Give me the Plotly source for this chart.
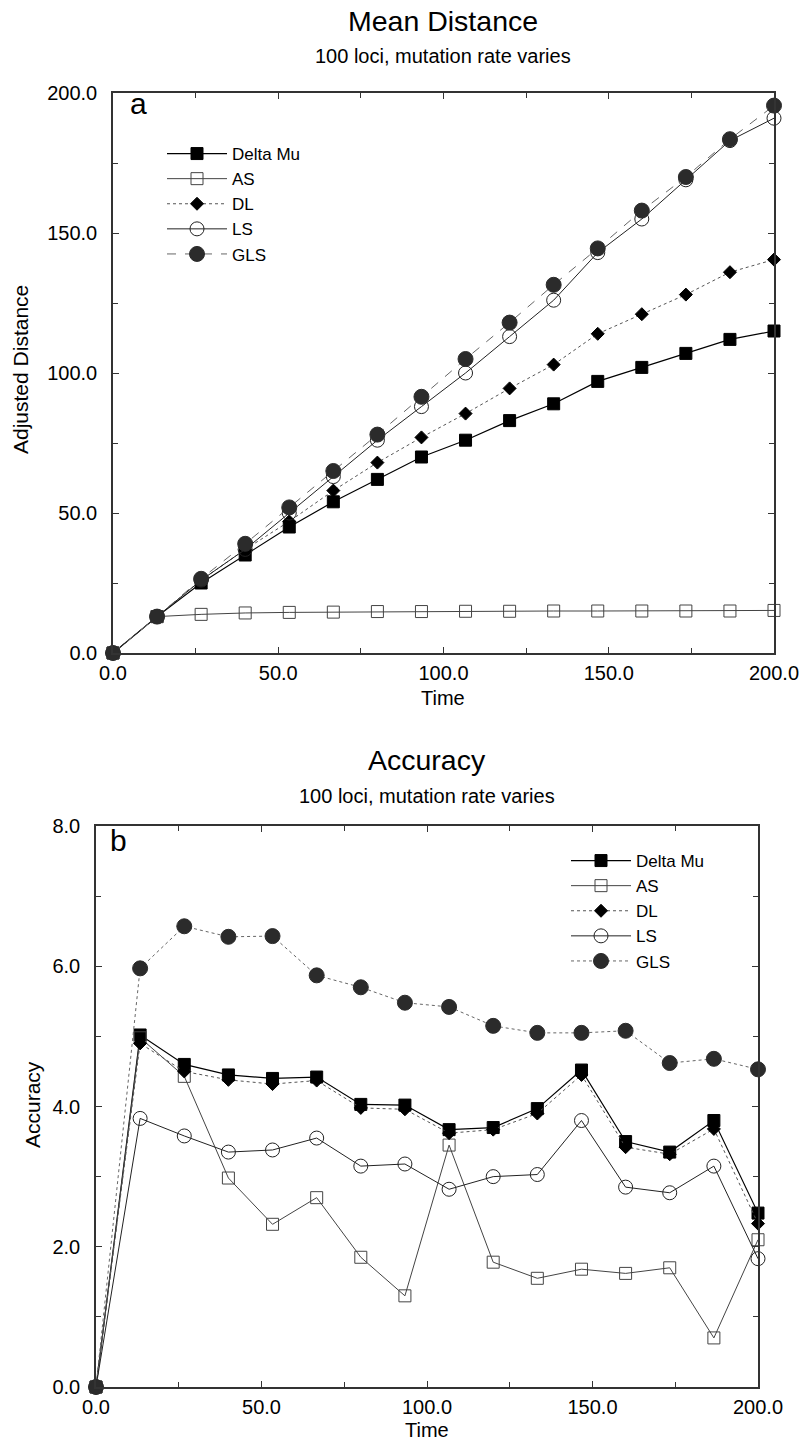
import plotly.graph_objects as go

time = [0.0, 13.33, 26.67, 40.0, 53.33, 66.67, 80.0, 93.33, 106.67, 120.0, 133.33, 146.67, 160.0, 173.33, 186.67, 200.0]

# Panel a: Mean Distance (Adjusted Distance)
dist_delta_mu = [0, 13, 25, 35, 45, 54, 62, 70, 76, 83, 89, 97, 102, 107, 112, 115]
dist_as = [0, 13, 13.8, 14.3, 14.5, 14.6, 14.8, 14.8, 14.9, 14.9, 15.0, 15.0, 15.0, 15.0, 15.0, 15.2]
dist_dl = [0, 13, 26, 37, 47, 58, 68, 77, 85.5, 94.5, 103, 114, 121, 128, 136, 140.5]
dist_ls = [0, 13, 26, 37, 50, 63, 76, 88, 100, 113, 126, 143, 155, 169, 183, 191]
dist_gls = [0, 13, 26.5, 39, 52, 65, 78, 91.5, 105, 118, 131.5, 144.5, 158, 170, 183.5, 195.5]

# Panel b: Accuracy
acc_delta_mu = [0, 5.02, 4.6, 4.45, 4.4, 4.42, 4.03, 4.02, 3.67, 3.7, 3.97, 4.52, 3.5, 3.35, 3.8, 2.48]
acc_as = [0, 4.98, 4.43, 2.98, 2.32, 2.7, 1.85, 1.3, 3.45, 1.78, 1.55, 1.68, 1.62, 1.7, 0.7, 2.1]
acc_dl = [0, 4.9, 4.5, 4.38, 4.32, 4.37, 3.98, 3.96, 3.62, 3.67, 3.9, 4.45, 3.42, 3.32, 3.68, 2.33]
acc_ls = [0, 3.83, 3.58, 3.35, 3.38, 3.55, 3.15, 3.18, 2.82, 3.0, 3.03, 3.8, 2.85, 2.77, 3.15, 1.83]
acc_gls = [0, 5.97, 6.57, 6.42, 6.43, 5.87, 5.7, 5.48, 5.42, 5.15, 5.05, 5.05, 5.08, 4.62, 4.68, 4.53]

names = ["Delta Mu", "AS", "DL", "LS", "GLS"]

W, H = 802, 1444
def px(x):
    return x / W
def py(y):
    return 1 - y / H

FONT = "Liberation Sans, Arial, Helvetica, sans-serif"

styles = {
    "Delta Mu": dict(symbol="square", size=12, mcolor="#000000", lcolor="#000000", dash="solid", lw=1.2),
    "AS": dict(symbol="square-open", size=12, mcolor="#444444", lcolor="#444444", dash="solid", lw=1.0),
    "DL": dict(symbol="diamond", size=10, mcolor="#000000", lcolor="#555555", dash="dot", lw=1.0),
    "LS": dict(symbol="circle-open", size=14, mcolor="#222222", lcolor="#222222", dash="solid", lw=1.0),
    "GLS": dict(symbol="circle", size=15, mcolor="#2b2b2b", lcolor="#666666", dash="dash", lw=1.0),
}

fig = go.Figure()

def add_series(xa, ya, ys, legend, gls_dash):
    for name, yv in zip(names, ys):
        s = styles[name]
        dash = gls_dash if name == "GLS" else s["dash"]
        fig.add_trace(go.Scatter(
            x=time, y=yv, name=name, mode="lines+markers",
            xaxis=xa, yaxis=ya, legend=legend, cliponaxis=False,
            line=dict(color=s["lcolor"], width=s["lw"], dash=dash),
            marker=dict(symbol=s["symbol"], size=s["size"], color=s["mcolor"],
                        line=dict(width=1, color=s["mcolor"])),
        ))

add_series("x", "y", [dist_delta_mu, dist_as, dist_dl, dist_ls, dist_gls], "legend", "dash")
add_series("x2", "y2", [acc_delta_mu, acc_as, acc_dl, acc_ls, acc_gls], "legend2", "dot")

axis_common = dict(
    showline=True, linecolor="#333333", linewidth=1.5, mirror="allticks",
    ticks="inside", ticklen=6, tickcolor="#333333", tickwidth=1,
    showgrid=False, zeroline=False, tickformat=".1f",
    tickfont=dict(family=FONT, size=20, color="#000000"),
)

fig.update_layout(
    width=W, height=H, margin=dict(l=0, r=0, t=0, b=0, autoexpand=False),
    plot_bgcolor="white", paper_bgcolor="white",
    showlegend=True,
    xaxis=dict(domain=[px(113), px(774)], anchor="y", range=[0, 200], dtick=50,
               minor=dict(dtick=25, ticks="inside", ticklen=5, tickcolor="#333333"),
               ticklabelstandoff=1, **axis_common),
    yaxis=dict(domain=[py(653), py(93)], anchor="x", range=[0, 200], dtick=50,
               minor=dict(dtick=25, ticks="inside", ticklen=5, tickcolor="#333333"),
               ticklabelstandoff=10, **axis_common),
    xaxis2=dict(domain=[px(96), px(758)], anchor="y2", range=[0, 200], dtick=50,
                minor=dict(dtick=25, ticks="inside", ticklen=5, tickcolor="#333333"),
                ticklabelstandoff=1, **axis_common),
    yaxis2=dict(domain=[py(1387), py(826)], anchor="x2", range=[0, 8], dtick=2,
                minor=dict(dtick=1, ticks="inside", ticklen=5, tickcolor="#333333"),
                ticklabelstandoff=10, **axis_common),
    legend=dict(x=px(162), y=py(136), xanchor="left", yanchor="top",
                bgcolor="rgba(0,0,0,0)", itemwidth=60, tracegroupgap=0,
                font=dict(family=FONT, size=17, color="#000000")),
    legend2=dict(x=px(566), y=py(843), xanchor="left", yanchor="top",
                 bgcolor="rgba(0,0,0,0)", itemwidth=60, tracegroupgap=0,
                 font=dict(family=FONT, size=17, color="#000000")),
)

def ann(text, x, y, size, angle=0, xanchor="center"):
    fig.add_annotation(text=text, x=px(x), y=py(y), xref="paper", yref="paper",
                       showarrow=False, xanchor=xanchor, yanchor="middle", textangle=angle,
                       font=dict(family=FONT, size=size, color="#000000"))

ann("Mean Distance", 443, 21, 28.5)
ann("100 loci, mutation rate varies", 443, 56, 20)
ann("Adjusted Distance", 20, 370, 21, angle=-90)
ann("Time", 443, 698, 20)
ann("a", 128, 104, 30, xanchor="left")

ann("Accuracy", 427, 760, 28.5)
ann("100 loci, mutation rate varies", 427, 796, 20)
ann("Accuracy", 32, 1105, 21, angle=-90)
ann("Time", 427, 1430, 20)
ann("b", 108, 840, 30, xanchor="left")

fig.write_html("out.html", config={"displayModeBar": False},
               post_script="document.body.style.margin='0px';")
